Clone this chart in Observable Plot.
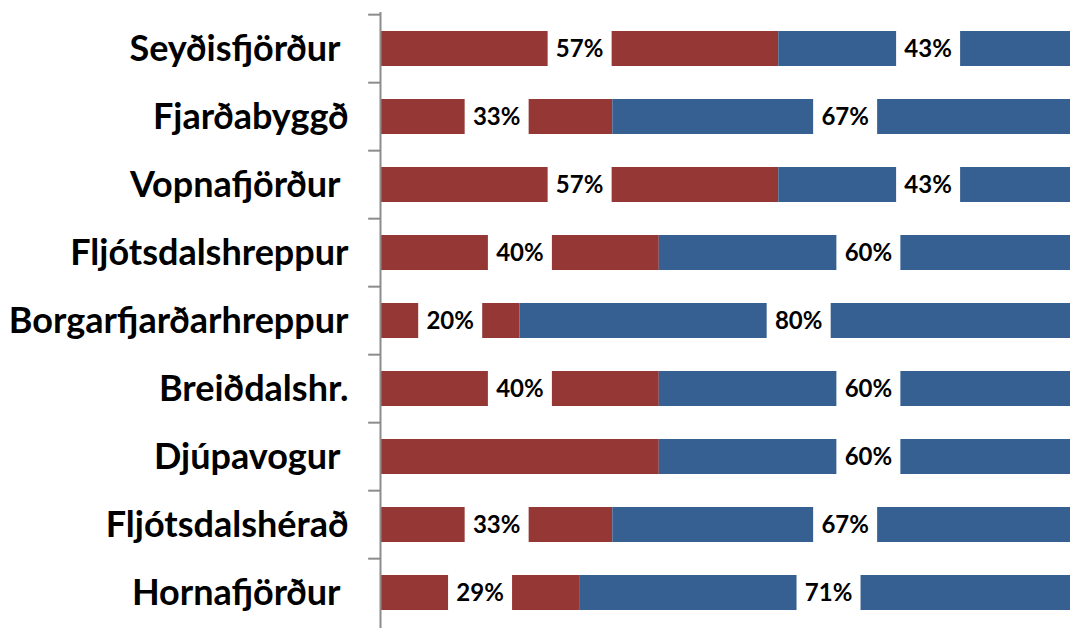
<!DOCTYPE html>
<html>
<head>
<meta charset="utf-8">
<script src="https://cdn.jsdelivr.net/npm/d3@7"></script>
<script src="https://cdn.jsdelivr.net/npm/@observablehq/plot@0.6"></script>
<style>
  html, body { margin: 0; padding: 0; background: white; overflow: hidden; }
  #chart { width: 1070px; height: 628px; }
</style>
</head>
<body>
<div id="chart"></div>
<script>
// Categories (trailing spaces as in the source labels)
const categories = [
  "Seyðisfjörður ", "Fjarðabyggð", "Vopnafjörður ", "Fljótsdalshreppur",
  "Borgarfjarðarhreppur", "Breiðdalshr.", "Djúpavogur ", "Fljótsdalshérað", "Hornafjörður "
];
// Series values (percent)
const seriesNames = ["A", "B"];
const seriesA = [57.14, 33.33, 57.14, 40, 20, 40, 40, 33.33, 28.57];
const seriesB = [42.86, 66.67, 42.86, 60, 80, 60, 60, 66.67, 71.43];
// Labels not shown in the source
const hiddenLabels = [["Djúpavogur ", "A"]];

const seriesColors = ["#953735", "#376092"];

const rows = [];
categories.forEach((c, i) => {
  rows.push({ name: c, series: "A", value: seriesA[i], start: 0 });
  rows.push({ name: c, series: "B", value: seriesB[i], start: seriesA[i] });
});
const labels = rows
  .filter(d => !hiddenLabels.some(([n, s]) => n === d.name && s === d.series))
  .map(d => ({ ...d, mid: d.start + d.value / 2, text: Math.round(d.value) + "%" }));

const boxSymbol = { draw(ctx) { ctx.rect(-32, -19, 64, 38); } };

const W = 1070, H = 628, mt = 12, mb = -2, ml = 380, mr = 0;
const step = (H - mt - mb) / categories.length;

const plot = Plot.plot({
  width: W, height: H,
  marginLeft: ml, marginRight: mr, marginTop: mt, marginBottom: mb,
  style: { fontFamily: "Lato, 'Open Sans', sans-serif", background: "white", overflow: "hidden" },
  x: { domain: [0, 99], axis: null },
  y: { domain: categories, paddingInner: 0.48, paddingOuter: 0.24, label: null },
  color: { domain: seriesNames, range: seriesColors },
  marks: [
    Plot.barX(rows, { y: "name", x1: "start", x2: d => d.start + d.value, fill: "series", clip: true }),
    Plot.dot(labels, { x: "mid", y: "name", symbol: boxSymbol, fill: "white", stroke: null, r: 10 }),
    Plot.text(labels, { x: "mid", y: "name", text: "text", fontSize: 24, fontWeight: "bold", fill: "black" }),
    Plot.axisY({ tickSize: 0, tickPadding: 32, fontSize: 36, fontWeight: "bold", fill: "black", label: null }),
    Plot.ruleX([0], { stroke: "#8c8c8c", strokeWidth: 2 }),
    Plot.ruleY(categories, { y: d => d, x1: -1.7, x2: 0, dy: -step / 2, stroke: "#8c8c8c", strokeWidth: 2 })
  ]
});
document.getElementById("chart").appendChild(plot);
</script>
</body>
</html>
